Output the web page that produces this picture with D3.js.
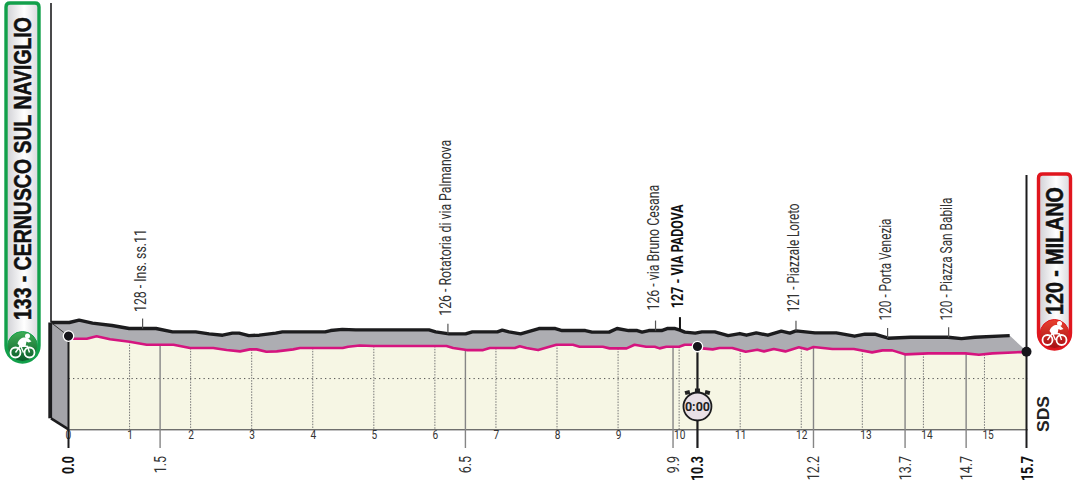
<!DOCTYPE html>
<html><head><meta charset="utf-8">
<script src="https://cdnjs.cloudflare.com/ajax/libs/d3/7.8.5/d3.min.js"></script>
<style>html,body{margin:0;padding:0;background:#fff}svg{display:block}
text{font-family:"Roboto","Liberation Sans",sans-serif}</style>
</head><body><svg id="c" width="1076" height="482"></svg>
<script>
// Data
const profileKm=[0,.3,.46,.68,1,1.28,1.72,1.99,2.37,2.59,2.81,2.97,3.08,3.24,3.41,3.68,3.79,4.49,4.58,4.77,4.99,6.19,6.3,6.52,6.79,6.9,7.31,7.39,7.5,7.69,7.99,8.26,8.37,8.75,8.86,9.14,9.27,9.46,9.6,9.68,9.79,10,10.09,10.22,10.3,10.38,10.55,10.66,10.87,11.09,11.28,11.39,11.55,11.74,11.96,12.1,12.2,12.51,12.86,13.16,13.33,13.49,13.71,14.08,14.69,14.91,15.13,15.6,15.7];
const profileElev=[133,133,135.4,132.4,130,127,127,123.7,123.7,121.7,120.4,122.4,122.4,120,120.4,122.4,123.7,123.7,125,126.2,125.7,125.7,123.7,121.7,121.7,123.7,123.7,125.4,123.7,121.7,127,127,125,125,123.4,123.4,127,125,125,123.4,125,125,127,127,125.4,123.4,122.4,123.7,123.7,120,122,120.4,122.7,120.4,124.4,122.4,124.7,122.7,122.7,119.4,121.4,121.4,117.4,118.4,118.4,117,118.4,119.7,120];
const kmTicks=[0,1,2,3,4,5,6,7,8,9,10,11,12,13,14,15];
const milestones=[1.5,6.5,9.9,12.2,13.7,14.7];
const boldMilestones=[0,10.3,15.7];
const places=["128 - Ins. ss.11","126 - Rotatoria di via Palmanova","126 - via Bruno Cesana","127 - VIA PADOVA","121 - Piazzale Loreto","120 - Porta Venezia","120 - Piazza San Babila"];
const placeKm=[1.5,6.5,9.9,10.3,12.2,13.7,14.7];
const startDotElev=135.6, finishDotElev=120, checkKm=10.3, checkElev=125.2, gridElev=93.4, baseElev=43;

// Layout of the place labels (not data)
const labelLength=[83,176,126,104,109,102,123];
const labelGap=[16.5,18,20,22,18.5,17.6,16.7];

const svg=d3.select("#c");
const x=d3.scaleLinear().domain([0,15.7]).range([68.5,1027.2]);
const y=d3.scaleLinear().domain([baseElev,133]).range([429.3,338.7]);
const DX=-17.5,DY=-16.2, NARROW=.78;
const pts=profileKm.map((k,i)=>[k,profileElev[i]]);
const lineTop=d3.line().x(d=>x(d[0])).y(d=>y(d[1]));
const lineRidge=d3.line().x(d=>x(d[0])+DX).y(d=>y(d[1])+DY);

// squeeze a rotated text to a given length without textLength
function fitRotated(sel,tx,ty,len){
  const n=sel.node().getComputedTextLength();
  sel.attr("transform",`translate(${tx},${ty}) rotate(-90) scale(${len/n},1)`);
}

const defs=svg.append("defs");
const g1=defs.append("linearGradient").attr("id","pill").attr("x1",0).attr("x2",1);
g1.append("stop").attr("offset",0).attr("stop-color","#cfcfd4");
g1.append("stop").attr("offset",.55).attr("stop-color","#ffffff");
g1.append("stop").attr("offset",1).attr("stop-color","#d8d8dc");
const g2=defs.append("linearGradient").attr("id","gi").attr("x1",0).attr("x2",0).attr("y1",0).attr("y2",1);
g2.append("stop").attr("offset",0).attr("stop-color","#3fae55");
g2.append("stop").attr("offset",1).attr("stop-color","#0c5a2a");
const g3=defs.append("linearGradient").attr("id","ri").attr("x1",0).attr("x2",0).attr("y1",0).attr("y2",1);
g3.append("stop").attr("offset",0).attr("stop-color","#e8412f");
g3.append("stop").attr("offset",1).attr("stop-color","#a50f14");

// road surface + plain
const area=d3.area().x(d=>x(d[0])).y0(y(baseElev)).y1(d=>y(d[1]));
svg.append("path").attr("d",area(pts)).attr("fill","#f6f6e4");
const ridgeRev=pts.map(d=>[x(d[0])+DX,y(d[1])+DY]);
const topP=pts.map(d=>[x(d[0]),y(d[1])]).reverse();
svg.append("path").attr("d",d3.line()(ridgeRev.concat(topP))+"Z").attr("fill","#adadb2");
// left side panel
const sx0=x(0)+DX, sy0=y(133)+DY;
svg.append("path").attr("d",`M${sx0},${sy0}L${x(0)},${y(startDotElev)}L${x(0)},${y(baseElev)}L${sx0},${y(baseElev)-11}Z`).attr("fill","#a4a4a9");

// dotted elevation grid
svg.append("line").attr("x1",x(0)).attr("x2",x(15.7)).attr("y1",y(gridElev)).attr("y2",y(gridElev))
 .attr("stroke","#555").attr("stroke-width",1).attr("stroke-dasharray","1.3 3.2");

const elevAt=d3.scaleLinear().domain(profileKm).range(profileElev);
// km verticals (dotted)
svg.append("g").selectAll("line").data(kmTicks.filter(k=>k>0)).join("line")
 .attr("x1",d=>x(d)).attr("x2",d=>x(d)).attr("y1",d=>y(elevAt(d))).attr("y2",y(baseElev))
 .attr("stroke","#777").attr("stroke-width",1).attr("stroke-dasharray","1.5 1.3");
// km labels through an axis
const kmAxis=d3.axisBottom(x).tickValues(kmTicks).tickSize(0).tickPadding(2).tickFormat(d3.format("d"));
const gk=svg.append("g").attr("transform",`translate(0,${y(baseElev)})`).call(kmAxis);
gk.select(".domain").attr("stroke","#333").attr("stroke-width",1);
gk.selectAll("text").attr("font-size",13).attr("fill","#333").attr("transform",`scale(${NARROW},1)`)
 .attr("font-family",'Roboto,sans-serif').attr("dx",d=>d>=13?4:(d==0?-1:0)).attr("dy","0.6em");

// milestones (solid)
svg.append("g").selectAll("line").data(milestones).join("line")
 .attr("x1",d=>x(d)).attr("x2",d=>x(d)).attr("y1",d=>y(elevAt(d))).attr("y2",448)
 .attr("stroke","#858585").attr("stroke-width",1.4);
svg.append("g").selectAll("text").data(milestones).join("text")
 .attr("transform",d=>`translate(${x(d)+5.5},456) rotate(-90) scale(${NARROW},1)`).attr("text-anchor","end")
 .attr("font-size",16).attr("fill","#333").text(d=>d3.format(".1f")(d));
svg.append("g").selectAll("text").data(boldMilestones).join("text")
 .attr("transform",d=>`translate(${x(d)+5.5},456) rotate(-90) scale(${NARROW},1)`).attr("text-anchor","end")
 .attr("font-size",16).attr("font-weight",700).attr("fill","#111").text(d=>d3.format(".1f")(d));

// ridge and road lines
svg.append("path").attr("d",lineRidge(pts)).attr("fill","none").attr("stroke","#1c1c1e").attr("stroke-width",3.4).attr("stroke-linejoin","round");
svg.append("path").attr("d",lineTop(pts)).attr("fill","none").attr("stroke","#d5147f").attr("stroke-width",2.6).attr("stroke-linejoin","round");

// panel edges
svg.append("line").attr("x1",sx0).attr("x2",sx0).attr("y1",3).attr("y2",sy0).attr("stroke","#1c1c1e").attr("stroke-width",1.6);
svg.append("line").attr("x1",sx0-.8).attr("x2",sx0-.8).attr("y1",sy0).attr("y2",y(baseElev)-11).attr("stroke","#1c1c1e").attr("stroke-width",3.8);
svg.append("line").attr("x1",sx0).attr("x2",x(0)).attr("y1",y(baseElev)-11).attr("y2",y(baseElev)).attr("stroke","#1c1c1e").attr("stroke-width",2.6);
svg.append("line").attr("x1",sx0).attr("x2",x(0)).attr("y1",sy0).attr("y2",y(startDotElev)).attr("stroke","#333").attr("stroke-width",1);
svg.append("line").attr("x1",x(0)).attr("x2",x(0)).attr("y1",y(startDotElev)).attr("y2",448).attr("stroke","#1c1c1e").attr("stroke-width",2);
svg.append("line").attr("x1",x(15.7)-.7).attr("x2",x(15.7)-.7).attr("y1",175).attr("y2",448).attr("stroke","#1c1c1e").attr("stroke-width",2);
svg.append("line").attr("x1",x(checkKm)).attr("x2",x(checkKm)).attr("y1",y(checkElev)).attr("y2",448).attr("stroke","#1c1c1e").attr("stroke-width",2.2);

// place labels
const gp=svg.append("g");
places.forEach((t,i)=>{
  const bold=t.includes("PADOVA");
  const tx=x(placeKm[i])+DX, ry=y(elevAt(placeKm[i]))+DY;
  gp.append("line").attr("x1",tx).attr("x2",tx).attr("y1",ry-(bold?13:10)).attr("y2",ry)
    .attr("stroke",bold?"#111":"#555").attr("stroke-width",bold?2:1.2);
  const lab=gp.append("text").attr("font-size",16).attr("font-weight",bold?700:400).attr("fill",bold?"#111":"#333").text(t);
  fitRotated(lab,tx+3.5,ry-labelGap[i],labelLength[i]);
});

// dots
function dot(cx,cy){svg.append("circle").attr("cx",cx).attr("cy",cy).attr("r",5.2).attr("fill","#15151a").attr("stroke","#fff").attr("stroke-width",1.3);}
dot(x(0),y(startDotElev));dot(x(checkKm),y(checkElev));
svg.append("circle").attr("cx",x(15.7)-.7).attr("cy",y(finishDotElev)).attr("r",5).attr("fill","#15151a");

// stopwatch
const sw=svg.append("g").attr("transform",`translate(${x(checkKm)},406.5)`);
[-10,10].forEach(d=>sw.append("rect").attr("x",d-2.5).attr("y",-16).attr("width",5).attr("height",4).attr("fill","#222").attr("transform",`rotate(${d*1.5} ${d} -14)`));
sw.append("rect").attr("x",-2.5).attr("y",-18).attr("width",5).attr("height",5).attr("fill","#222");
sw.append("circle").attr("r",14).attr("fill","#e9e0e6").attr("stroke","#1c1c1e").attr("stroke-width",1.8);
sw.append("text").attr("text-anchor","middle").attr("y",4.3).attr("font-size",12.5).attr("font-weight",700).attr("fill","#222").text("0:00");

// SDS logo
const sds=svg.append("text").attr("font-size",16).attr("font-weight",700).attr("fill","#222").style("font-family",'"Liberation Sans",sans-serif').text("SDS");
fitRotated(sds,1049,432,36);

// pills
function rider(g,c){
  g.append("circle").attr("cx",-7).attr("cy",6).attr("r",5).attr("fill","none").attr("stroke",c).attr("stroke-width",1.8);
  g.append("circle").attr("cx",7).attr("cy",6).attr("r",5).attr("fill","none").attr("stroke",c).attr("stroke-width",1.8);
  g.append("path").attr("d","M-7,6L-2,-1L5,0L7,6M-2,-1L1,6Z").attr("fill","none").attr("stroke",c).attr("stroke-width",1.4);
  g.append("path").attr("d","M-5,-3C-3,-9 2,-10 6,-8L9,-5L6,-4L4,-5L3,0L-2,1Z").attr("fill",c);
  g.append("circle").attr("cx",5).attr("cy",-10.5).attr("r",2.5).attr("fill",c);
}
function pill(x0,y0,w,h,col,grad,label,ty,cy,fs,len){
  const r=w/2, rt=4;
  const d=`M${x0+rt},${y0}H${x0+w-rt}Q${x0+w},${y0} ${x0+w},${y0+rt}V${y0+h-r}A${r},${r} 0 0 1 ${x0},${y0+h-r}V${y0+rt}Q${x0},${y0} ${x0+rt},${y0}Z`;
  svg.append("path").attr("d",d).attr("fill","url(#pill)").attr("stroke",col).attr("stroke-width",3.4);
  const t=svg.append("text").attr("font-size",fs).attr("font-weight",700).attr("fill","#111")
    .attr("stroke","#111").attr("stroke-width",.5)
    .style("font-family",'"Liberation Sans",sans-serif').text(label);
  fitRotated(t,x0+w/2+fs*.36,ty,len);
  const ic=svg.append("g").attr("transform",`translate(${x0+w/2},${cy})`);
  ic.append("circle").attr("r",r-1.5).attr("fill",grad).attr("stroke",col).attr("stroke-width",1);
  rider(ic,"#fff");
}
pill(6,3,33,359,"#12a04b","url(#gi)","133 - CERNUSCO SUL NAVIGLIO",320,346.5,23,303);
pill(1038.5,174,32,175,"#e0161e","url(#ri)","120 - MILANO",315,334,23,128);
</script></body></html>
